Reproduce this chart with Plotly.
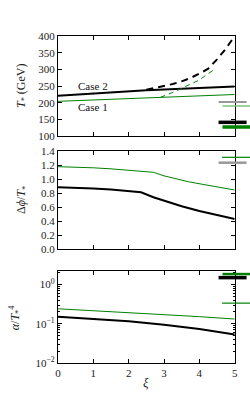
import plotly.graph_objects as go

# ---------------- data ----------------
xi_T = [0, 0.5, 1, 1.5, 2, 2.5, 3, 3.5, 4, 4.5, 5]
T_case2 = [221, 224.5, 228, 231, 234, 237, 239.5, 242, 244.5, 246.5, 248.5]
T_case1 = [204, 206, 208, 210.5, 212.5, 214.5, 216.5, 218.5, 220.5, 222.5, 224.5]

xi_T2_dash = [2.5, 2.75, 3.0, 3.25, 3.5, 3.75, 4.0, 4.25, 4.5, 4.75, 5.0]
T_case2_dash = [239, 244, 250, 256, 264, 274, 287, 302, 330, 362, 400]
xi_T1_dash = [2.9, 3.0, 3.25, 3.5, 3.75, 4.0, 4.25, 4.43]
T_case1_dash = [216, 220, 231, 243, 255, 268, 287, 300]

xi_phi1 = [0, 0.5, 1, 1.5, 2, 2.5, 2.7, 3, 3.35, 3.7, 4.09, 4.5, 5]
phi_case1 = [1.176, 1.17, 1.16, 1.145, 1.125, 1.105, 1.096, 1.045, 1.0, 0.96, 0.924, 0.885, 0.843]
xi_phi2 = [0, 0.5, 1, 1.5, 2, 2.35, 2.7, 3.12, 3.5, 4, 4.5, 5]
phi_case2 = [0.881, 0.876, 0.866, 0.85, 0.83, 0.81, 0.74, 0.667, 0.61, 0.543, 0.485, 0.43]

xi_a = [0, 1, 2, 3, 4, 5]
alpha_case1 = [0.241, 0.215, 0.195, 0.175, 0.152, 0.132]
alpha_case2 = [0.152, 0.135, 0.116, 0.095, 0.074, 0.053]

# reference markers drawn past the right edge (value, position, colour, width)
ref_T_vals = [202, 190, 141, 127]
ref_T_x = [4.94, 5.05, 4.94, 5.05]
ref_T_col = ["#999999", "#80c080", "#000000", "#008000"]
ref_T_w = [2, 1.5, 3.5, 3.5]

ref_phi_vals = [1.31, 1.233]
ref_phi_x = [5.04, 4.94]
ref_phi_col = ["#008000", "#999999"]
ref_phi_w = [1.2, 2.5]

ref_a_vals = [1.85, 1.5, 0.336]
ref_a_x = [5.05, 4.94, 5.04]
ref_a_col = ["#008000", "#000000", "#008000"]
ref_a_w = [2.5, 3.5, 1.2]

GREEN = "#008000"
FONT = "Liberation Serif, serif"

W, H = 250, 400
ML, MR, MT, MB = 58, 0, 36, 37
AXIS_RIGHT = 237.5            # pixel position of the right frame
D = (AXIS_RIGHT - ML) / (W - ML - MR)   # fraction of plot width used by panels

fig = go.Figure()

def line(x, y, color, width, ax, dash="solid"):
    fig.add_trace(go.Scatter(x=x, y=y, mode="lines", xaxis=ax[0], yaxis=ax[1],
                             line=dict(color=color, width=width, dash=dash),
                             showlegend=False, hoverinfo="skip"))

def refs(xs, ys, cols, ws, yax):
    for x, y, c, w in zip(xs, ys, cols, ws):
        fig.add_trace(go.Scatter(x=[x], y=[y], mode="markers", xaxis="x4", yaxis=yax,
                                 marker=dict(symbol="line-ew", size=20,
                                             line=dict(color=c, width=w)),
                                 cliponaxis=False, showlegend=False, hoverinfo="skip"))

A1 = ("x", "y")
A2 = ("x2", "y2")
A3 = ("x3", "y3")

line(xi_T, T_case1, GREEN, 1, A1)
line(xi_T, T_case2, "black", 2, A1)
line(xi_T1_dash, T_case1_dash, GREEN, 1, A1, dash="5px,4px")
line(xi_T2_dash, T_case2_dash, "black", 2, A1, dash="7px,5px")
refs(ref_T_x, ref_T_vals, ref_T_col, ref_T_w, "y")

line(xi_phi1, phi_case1, GREEN, 1, A2)
line(xi_phi2, phi_case2, "black", 2, A2)
refs(ref_phi_x, ref_phi_vals, ref_phi_col, ref_phi_w, "y2")

line(xi_a, alpha_case1, GREEN, 1, A3)
line(xi_a, alpha_case2, "black", 2, A3)
refs(ref_a_x, ref_a_vals, ref_a_col, ref_a_w, "y3")

axis_common = dict(showline=True, linecolor="black", linewidth=1.2, mirror="ticks",
                   ticks="inside", ticklen=4, tickwidth=1, tickcolor="black",
                   showgrid=False, zeroline=False,
                   tickfont=dict(family=FONT, size=11, color="#222"))

xbase = dict(axis_common, range=[0, 5], tickvals=[0, 1, 2, 3, 4, 5], domain=[0, D])

fig.update_layout(
    width=W, height=H,
    margin=dict(l=ML, r=MR, t=MT, b=MB),
    paper_bgcolor="white", plot_bgcolor="rgba(0,0,0,0)",
    xaxis=dict(xbase, anchor="y", showticklabels=False),
    xaxis2=dict(xbase, anchor="y2", showticklabels=False),
    xaxis3=dict(xbase, anchor="y3", showticklabels=True),
    xaxis4=dict(domain=[0, 1], range=[0, 5 / D], visible=False, anchor="y3"),
    yaxis=dict(axis_common, anchor="x", domain=[0.6942, 1.0], range=[100, 400],
               tickvals=[100, 150, 200, 250, 300, 350, 400]),
    yaxis2=dict(axis_common, anchor="x2", domain=[0.3486, 0.6483], range=[0, 1.4],
                tickvals=[0, 0.2, 0.4, 0.6, 0.8, 1.0, 1.2, 1.4],
                ticktext=["0.0", "0.2", "0.4", "0.6", "0.8", "1.0", "1.2", "1.4"]),
    yaxis3=dict(axis_common, anchor="x3", domain=[0.0, 0.2813], type="log",
                range=[-2, 0.345], tickvals=[0.01, 0.1, 1],
                ticktext=["10<sup>−2</sup>", "10<sup>−1</sup>", "10<sup>0</sup>"],
                minor=dict(ticks="inside", ticklen=2, tickcolor="black",
                           tickvals=[v * d for d in (0.01, 0.1, 1) for v in range(2, 10)],
                           showgrid=False)),
)

annots = [
    dict(text="Case 2", x=1.0, y=250, xref="x", yref="y"),
    dict(text="Case 1", x=1.0, y=186, xref="x", yref="y"),
]
for a in annots:
    fig.add_annotation(showarrow=False, font=dict(family=FONT, size=11, color="#111"), **a)

# axis titles
title_font = dict(family=FONT, size=12, color="#222")
fig.add_annotation(text="<i>T</i><sub>*</sub> (GeV)", xref="paper", yref="paper",
                   x=0, y=0.847, xshift=-36, xanchor="center", yanchor="middle",
                   textangle=-90, showarrow=False, font=title_font)
fig.add_annotation(text="Δ<i>ϕ</i>/<i>T</i><sub>*</sub>", xref="paper", yref="paper",
                   x=0, y=0.4985, xshift=-36, xanchor="center", yanchor="middle",
                   textangle=-90, showarrow=False, font=title_font)
fig.add_annotation(text="<i>α</i>/<i>T</i><sub>*</sub><sup>4</sup>", xref="paper", yref="paper",
                   x=0, y=0.14, xshift=-43, xanchor="center", yanchor="middle",
                   textangle=-90, showarrow=False, font=title_font)
fig.add_annotation(text="<i>ξ</i>", xref="paper", yref="paper",
                   x=D / 2, y=0, yshift=-19, xanchor="center", yanchor="middle",
                   showarrow=False, font=dict(family=FONT, size=13, color="#222"))

fig.write_html("out.html", config={"displayModeBar": False},
               post_script="document.body.style.margin='0';")
